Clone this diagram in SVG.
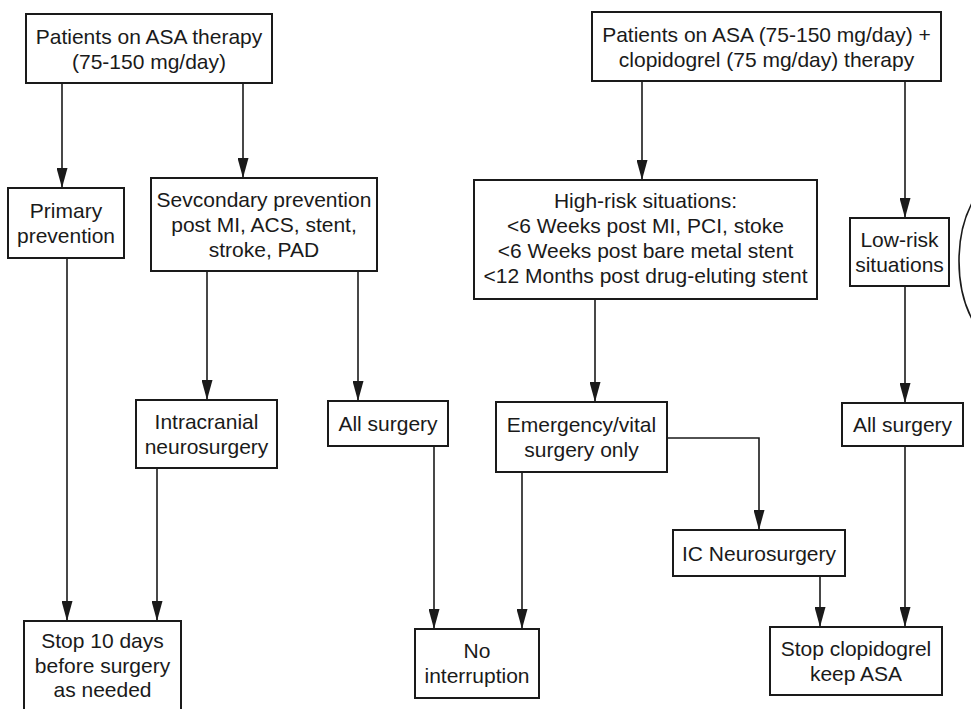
<svg xmlns="http://www.w3.org/2000/svg" width="971" height="709" viewBox="0 0 971 709">
<style>
.box{fill:#fff;stroke:#1a1a1a;stroke-width:2}
.t{font-family:"Liberation Sans",Arial,sans-serif;font-size:21px;fill:#1a1a1a;text-anchor:middle}
.c{fill:none;stroke:#1a1a1a;stroke-width:1.6;marker-end:url(#ah)}
</style>
<defs>
<marker id="ah" markerUnits="userSpaceOnUse" markerWidth="20" markerHeight="11" viewBox="0 0 20 11" refX="20" refY="5.5" orient="auto">
<path d="M0,0 L20,5.5 L0,11 z" fill="#1a1a1a"/>
</marker>
</defs>
<rect width="971" height="709" fill="#fff"/>
<g id="connectors">
<path class="c" d="M62,83 V188"/>
<path class="c" d="M243,83 V178"/>
<path class="c" d="M67,258 V621"/>
<path class="c" d="M207,271 V400"/>
<path class="c" d="M358,271 V401"/>
<path class="c" d="M157,468 V621"/>
<path class="c" d="M434,446 V629"/>
<path class="c" d="M642,81 V180"/>
<path class="c" d="M905,81 V218"/>
<path class="c" d="M595,299 V402"/>
<path class="c" d="M905,286 V403"/>
<path class="c" d="M522,472 V629"/>
<path class="c" d="M667,438 H759 V530"/>
<path class="c" d="M820,576 V627"/>
<path class="c" d="M905,446 V627"/>
</g>
<g id="n1"><rect class="box" x="26" y="14" width="246" height="69"/><text class="t" x="149" y="43.5">Patients on ASA therapy</text><text class="t" x="149" y="68.5">(75-150 mg/day)</text></g>
<g id="n2"><rect class="box" x="592" y="12" width="349" height="69"/><text class="t" x="766.5" y="41.5">Patients on ASA (75-150 mg/day) +</text><text class="t" x="766.5" y="66.5">clopidogrel (75 mg/day) therapy</text></g>
<g id="n3"><rect class="box" x="8" y="188" width="116" height="70"/><text class="t" x="66" y="218">Primary</text><text class="t" x="66" y="243">prevention</text></g>
<g id="n4"><rect class="box" x="151" y="178" width="226" height="93"/><text class="t" x="264" y="207">Sevcondary prevention</text><text class="t" x="264" y="232">post MI, ACS, stent,</text><text class="t" x="264" y="257">stroke, PAD</text></g>
<g id="n5"><rect class="box" x="474" y="180" width="343" height="119"/><text class="t" x="645.5" y="208">High-risk situations:</text><text class="t" x="645.5" y="233">&lt;6 Weeks post MI, PCI, stoke</text><text class="t" x="645.5" y="258">&lt;6 Weeks post bare metal stent</text><text class="t" x="645.5" y="283">&lt;12 Months post drug-eluting stent</text></g>
<g id="n6"><rect class="box" x="850" y="218" width="99" height="68"/><text class="t" x="899.5" y="247">Low-risk</text><text class="t" x="899.5" y="272">situations</text></g>
<g id="arc"><ellipse cx="1010" cy="261" rx="51" ry="87" fill="none" stroke="#1a1a1a" stroke-width="1.6"/></g>
<g id="n7"><rect class="box" x="136" y="400" width="141" height="68"/><text class="t" x="206.5" y="429">Intracranial</text><text class="t" x="206.5" y="454">neurosurgery</text></g>
<g id="n8"><rect class="box" x="328" y="401" width="120" height="45"/><text class="t" x="388" y="431">All surgery</text></g>
<g id="n9"><rect class="box" x="496" y="402" width="171" height="70"/><text class="t" x="581.5" y="432">Emergency/vital</text><text class="t" x="581.5" y="457">surgery only</text></g>
<g id="n10"><rect class="box" x="842" y="403" width="121" height="43"/><text class="t" x="902.5" y="432">All surgery</text></g>
<g id="n11"><rect class="box" x="673" y="530" width="172" height="46"/><text class="t" x="759" y="561">IC Neurosurgery</text></g>
<g id="n12"><rect class="box" x="770" y="627" width="172" height="68"/><text class="t" x="856" y="656">Stop clopidogrel</text><text class="t" x="856" y="681">keep ASA</text></g>
<g id="n13"><rect class="box" x="415" y="629" width="124" height="69"/><text class="t" x="477" y="658">No</text><text class="t" x="477" y="683">interruption</text></g>
<g id="n14"><rect class="box" x="24" y="621" width="157" height="100"/><text class="t" x="102.5" y="648">Stop 10 days</text><text class="t" x="102.5" y="673">before surgery</text><text class="t" x="102.5" y="697">as needed</text></g>
</svg>
